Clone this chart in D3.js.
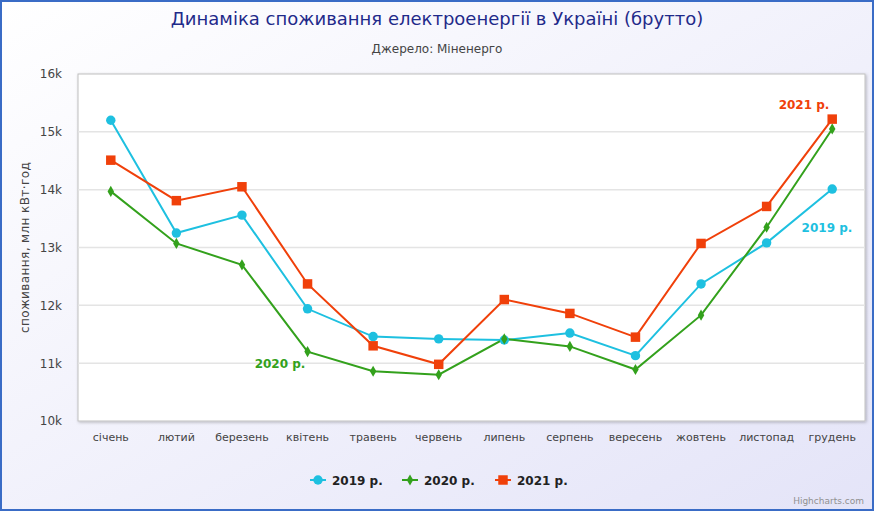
<!DOCTYPE html>
<html>
<head>
<meta charset="utf-8">
<script src="https://cdn.jsdelivr.net/npm/d3@7"></script>
<style>
  html, body { margin: 0; padding: 0; background: #fff; }
  svg { display: block; font-family: "DejaVu Sans", Verdana, sans-serif; }
</style>
</head>
<body>
<div id="chart"></div>
<script>
// months (categories)
var months = ["січень", "лютий", "березень", "квітень", "травень", "червень",
              "липень", "серпень", "вересень", "жовтень", "листопад", "грудень"];

// consumption, mln kWh
var y2019 = [15200, 13250, 13560, 11940, 11460, 11420, 11400, 11520, 11130, 12370, 13080, 14010];
var y2020 = [13970, 13070, 12700, 11200, 10860, 10800, 11420, 11290, 10890, 11830, 13350, 15050];
var y2021 = [14510, 13810, 14050, 12370, 11300, 10980, 12100, 11860, 11450, 13070, 13710, 15220];

var seriesNames = ["2019 р.", "2020 р.", "2021 р."];
var yTicks = [10000, 11000, 12000, 13000, 14000, 15000, 16000];

// in-chart series labels: [month index, value]
var labelAt = [[10.92, 13270], [2.58, 10920], [10.57, 15400]];

var W = 874, H = 511;
var margin = {top: 74, right: 9, bottom: 90, left: 78};
var width = W - margin.left - margin.right,
    height = H - margin.top - margin.bottom;

var colors = ["#1ec0e0", "#33a11c", "#f0400a"];
var symbols = [d3.symbolCircle, d3.symbolDiamond, d3.symbolSquare];
var symSize = [70, 36, 90];

var svg = d3.select("#chart").append("svg")
    .attr("width", W).attr("height", H);

var defs = svg.append("defs");
var grad = defs.append("linearGradient").attr("id", "bg")
    .attr("x1", "0").attr("y1", "0").attr("x2", "1").attr("y2", "1");
grad.append("stop").attr("offset", "0%").attr("stop-color", "#ffffff");
grad.append("stop").attr("offset", "100%").attr("stop-color", "#e4e4f8");
var shadow = defs.append("filter").attr("id", "shadow")
    .attr("x", "-5%").attr("y", "-5%").attr("width", "110%").attr("height", "110%");
shadow.append("feDropShadow").attr("dx", 1).attr("dy", 1).attr("stdDeviation", 1.5)
    .attr("flood-color", "#000").attr("flood-opacity", 0.25);

// background + outer border
svg.append("rect").attr("x", 1).attr("y", 1).attr("width", W - 2).attr("height", H - 2)
    .attr("fill", "url(#bg)").attr("stroke", "#3a6cc6").attr("stroke-width", 2);

// titles
svg.append("text").attr("x", W / 2).attr("y", 25).attr("text-anchor", "middle")
    .attr("font-size", 18).attr("fill", "#1f2a8a")
    .text("Динаміка споживання електроенергії в Україні (брутто)");
svg.append("text").attr("x", W / 2).attr("y", 53).attr("text-anchor", "middle")
    .attr("font-size", 12).attr("fill", "#444")
    .text("Джерело: Міненерго");

var g = svg.append("g")
    .attr("transform", "translate(" + margin.left + "," + margin.top + ")");

// plot frame
g.append("rect").attr("width", width).attr("height", height)
    .attr("fill", "#fff").attr("stroke", "#c0c0c0").attr("stroke-width", 1)
    .attr("filter", "url(#shadow)");

var x = d3.scaleBand().domain(months).range([0, width]);
var y = d3.scaleLinear().domain([10000, 16000]).range([height, 0]);
var xc = function(i) { return x(months[0]) + x.bandwidth() * (i + 0.5); };

// grid
g.append("g").selectAll("line").data(yTicks.slice(1, -1)).enter().append("line")
    .attr("x1", 0).attr("x2", width)
    .attr("y1", function(d) { return y(d); }).attr("y2", function(d) { return y(d); })
    .attr("stroke", "#e4e4e4").attr("stroke-width", 1.5);

// axes
var yAxis = g.append("g")
    .call(d3.axisLeft(y).tickValues(yTicks).tickSize(0).tickPadding(16)
        .tickFormat(function(d) { return d / 1000 + "k"; }));
yAxis.select(".domain").remove();
yAxis.selectAll("text").attr("font-size", 12).attr("fill", "#444")
    .attr("font-family", "DejaVu Sans, sans-serif");

var xAxis = g.append("g").attr("transform", "translate(0," + height + ")")
    .call(d3.axisBottom(x).tickSize(0).tickPadding(12));
xAxis.select(".domain").remove();
xAxis.selectAll("text").attr("font-size", 11).attr("fill", "#444")
    .attr("font-family", "DejaVu Sans, sans-serif");

svg.append("text")
    .attr("transform", "translate(29," + (margin.top + height / 2) + ") rotate(-90)")
    .attr("text-anchor", "middle").attr("font-size", 12).attr("fill", "#444")
    .attr("letter-spacing", 0.4)
    .text("споживання, млн кВт·год");

// series
var data = [y2019, y2020, y2021];
var line = d3.line()
    .x(function(d, i) { return xc(i); })
    .y(function(d) { return y(d); });

data.forEach(function(vals, s) {
    g.append("path").datum(vals).attr("d", line)
        .attr("fill", "none").attr("stroke", colors[s]).attr("stroke-width", 2);
});
data.forEach(function(vals, s) {
    g.append("g").selectAll("path").data(vals).enter().append("path")
        .attr("d", d3.symbol().type(symbols[s]).size(symSize[s]))
        .attr("transform", function(d, i) { return "translate(" + xc(i) + "," + y(d) + ")"; })
        .attr("fill", colors[s]);
});

// series labels in the plot
labelAt.forEach(function(p, s) {
    g.append("text").attr("x", xc(p[0])).attr("y", y(p[1]))
        .attr("text-anchor", "middle")
        .attr("font-size", 12).attr("font-weight", "bold").attr("fill", colors[s])
        .text(seriesNames[s]);
});

// legend
var legendX = [310, 402, 495];
var legend = svg.append("g").attr("transform", "translate(0,480)");
seriesNames.forEach(function(name, s) {
    var it = legend.append("g").attr("transform", "translate(" + legendX[s] + ",0)");
    it.append("line").attr("x1", 0).attr("x2", 16).attr("stroke", colors[s]).attr("stroke-width", 2);
    it.append("path").attr("d", d3.symbol().type(symbols[s]).size(symSize[s]))
        .attr("transform", "translate(8,0)").attr("fill", colors[s]);
    it.append("text").attr("x", 22).attr("y", 4.5).attr("font-size", 12)
        .attr("font-weight", "bold").attr("fill", "#222").text(name);
});

// credits
svg.append("text").attr("x", W - 10).attr("y", H - 7).attr("text-anchor", "end")
    .attr("font-size", 9).attr("fill", "#909090").text("Highcharts.com");
</script>
</body>
</html>
